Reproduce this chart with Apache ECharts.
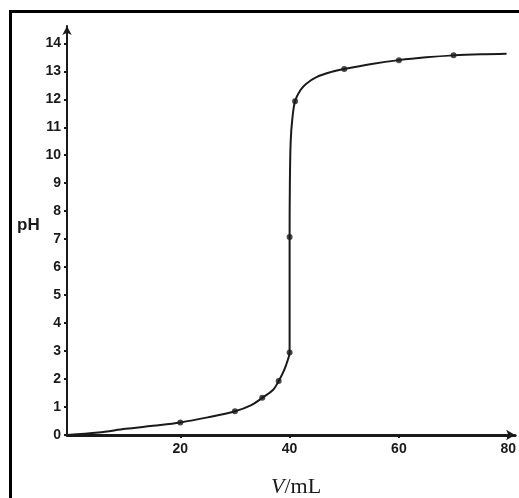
<!DOCTYPE html>
<html>
<head>
<meta charset="utf-8">
<script src="https://cdn.jsdelivr.net/npm/echarts@6/dist/echarts.min.js"></script>
<style>
html,body{margin:0;padding:0;background:#fff;}
#chart{width:519px;height:498px;}
</style>
</head>
<body>
<div id="chart"></div>
<script>
// measured titration points (V in mL, pH)
const pointV  = [20, 30, 35, 38, 40, 40, 41, 50, 60, 70];
const pointPH = [0.45, 0.85, 1.33, 1.93, 2.95, 7.08, 11.93, 13.08, 13.4, 13.57];
// points
const curveV  = [-0.7, 5, 10, 15, 20, 25, 30, 33, 35, 37, 38, 39, 39.7, 40, 40, 40, 40.05, 40.2, 40.5, 41, 42, 43, 45, 47.5, 50, 55, 60, 65, 70, 75, 79.7];
const curvePH = [0, 0.09, 0.22, 0.33, 0.45, 0.63, 0.85, 1.07, 1.33, 1.62, 1.93, 2.32, 2.7, 2.95, 5, 7.08, 9, 10.5, 11.3, 11.93, 12.33, 12.55, 12.8, 12.97, 13.08, 13.26, 13.4, 13.5, 13.57, 13.61, 13.63];
const xTicks = [20, 40, 60, 80];
const yTicks = [0, 1, 2, 3, 4, 5, 6, 7, 8, 9, 10, 11, 12, 13, 14];

const ink = '#1a1a1a';
const chart = echarts.init(document.getElementById('chart'), null, {renderer: 'canvas'});
chart.setOption({
  animation: false,
  backgroundColor: '#fff',
  grid: {left: 67, right: 1, top: 26, bottom: 63, containLabel: false},
  xAxis: {
    type: 'value', min: -0.73, max: 81.27,
    splitLine: {show: false},
    axisLine: {show: true, onZero: false, lineStyle: {color: ink, width: 3},
      symbol: ['none', 'arrow'], symbolSize: [8, 9]},
    axisTick: {show: true, customValues: xTicks, length: 3, inside: false, lineStyle: {color: ink, width: 2}},
    axisLabel: {customValues: xTicks, color: ink, fontFamily: 'Liberation Sans, Arial', fontWeight: 'bold', fontSize: 14, margin: 7}
  },
  yAxis: {
    type: 'value', min: 0, max: 14.62,
    splitLine: {show: false},
    axisLine: {show: true, onZero: false, lineStyle: {color: ink, width: 2},
      symbol: ['none', 'arrow'], symbolSize: [7, 9]},
    axisTick: {show: true, customValues: yTicks, length: 3, inside: false, lineStyle: {color: ink, width: 2}},
    axisLabel: {customValues: yTicks, color: ink, fontFamily: 'Liberation Sans, Arial', fontWeight: 'bold', fontSize: 14, margin: 6}
  },
  graphic: [
    {type: 'rect', shape: {x: 10.5, y: 11.5, width: 700, height: 700}, style: {fill: 'none', stroke: '#000', lineWidth: 3}, z: 10},
    {type: 'text', left: 17, top: 217, style: {text: 'pH', fill: ink, font: 'bold 17px "Liberation Sans", Arial'}},
    {type: 'text', left: 271, top: 476, style: {
      rich: {i: {fontFamily: '"Liberation Serif", "Times New Roman", serif', fontStyle: 'italic', fontSize: 22, fill: ink},
             n: {fontFamily: '"Liberation Serif", "Times New Roman", serif', fontSize: 22, fill: ink}},
      text: '{i|V}{n|/mL}'}}
  ],
  series: [
    {type: 'line', data: curveV.map((v, i) => [v, curvePH[i]]), smooth: 0.35, showSymbol: false,
     lineStyle: {color: ink, width: 2}, z: 2},
    {type: 'scatter', data: pointV.map((v, i) => [v, pointPH[i]]), symbol: 'circle', symbolSize: 6,
     itemStyle: {color: ink}, z: 3}
  ]
});
</script>
</body>
</html>
